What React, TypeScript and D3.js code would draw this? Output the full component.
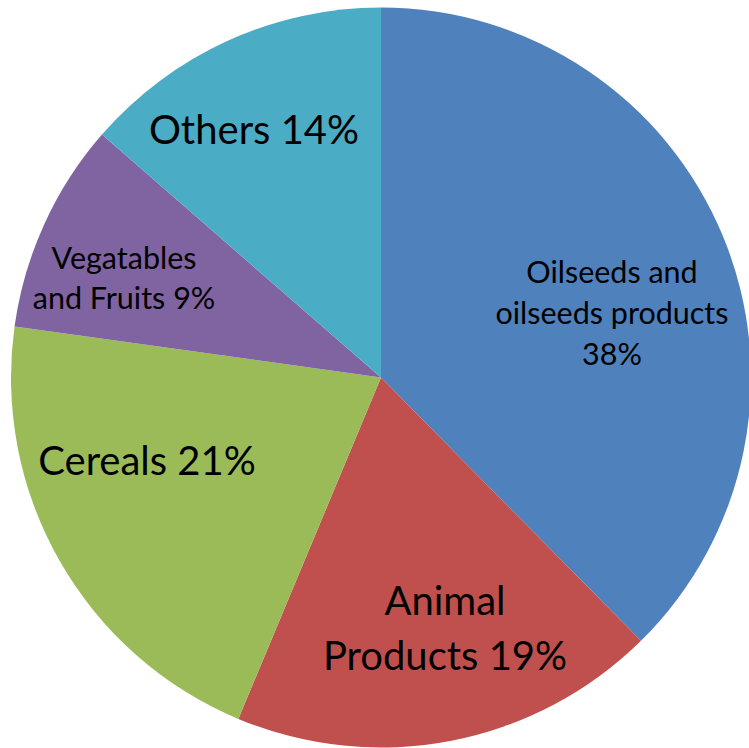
import React from "react";
import * as d3 from "d3";

const categories = ["Oilseeds and oilseeds products", "Animal Products", "Cereals", "Vegatables and Fruits", "Others"];
const values = [37.6, 18.7, 20.9, 9.2, 13.6];
const labelLines = [
  ["Oilseeds and", "oilseeds products", "{p}"],
  ["Animal", "Products {p}"],
  ["Cereals {p}"],
  ["Vegatables", "and Fruits {p}"],
  ["Others {p}"],
];
const colors = ["#4F81BD", "#C0504D", "#9BBB59", "#8064A2", "#4BACC6"];

// layout: label anchor (center x, first baseline y) relative to pie center, font size, line gap
const W = 749, H = 748;
const cx = 381, cy = 377.5, R = 370;
const labelLayout = [
  { dx: 231, dy: -94.5, size: 30.5, gap: 41 },
  { dx: 64, dy: 237.5, size: 40, gap: 55 },
  { dx: -234, dy: 97.5, size: 40, gap: 0 },
  { dx: -257, dy: -108.5, size: 30.5, gap: 40 },
  { dx: -127, dy: -234, size: 40, gap: 0 },
];

export default function App() {
  const total = d3.sum(values);
  const pie = d3.pie<number>().sort(null).value((d) => d);
  const arcs = pie(values);
  const arc = d3.arc<d3.PieArcDatum<number>>().innerRadius(0).outerRadius(R);
  return (
    <svg width={W} height={H} style={{ position: "fixed", left: 0, top: 0, background: "#fff" }}>
      <g transform={`translate(${cx},${cy})`}>
        {arcs.map((a, i) => (
          <path key={categories[i]} d={arc(a) || ""} fill={colors[i]} />
        ))}
        {arcs.map((a, i) => {
          const L = labelLayout[i];
          const pct = Math.round((values[i] / total) * 100) + "%";
          return (
            <text key={"t" + i} fontFamily="Lato, 'Open Sans', sans-serif" fontSize={L.size} fill="#000" textAnchor="middle">
              {labelLines[i].map((ln, j) => (
                <tspan key={j} x={L.dx} y={L.dy + j * L.gap}>{ln.replace("{p}", pct)}</tspan>
              ))}
            </text>
          );
        })}
      </g>
    </svg>
  );
}
